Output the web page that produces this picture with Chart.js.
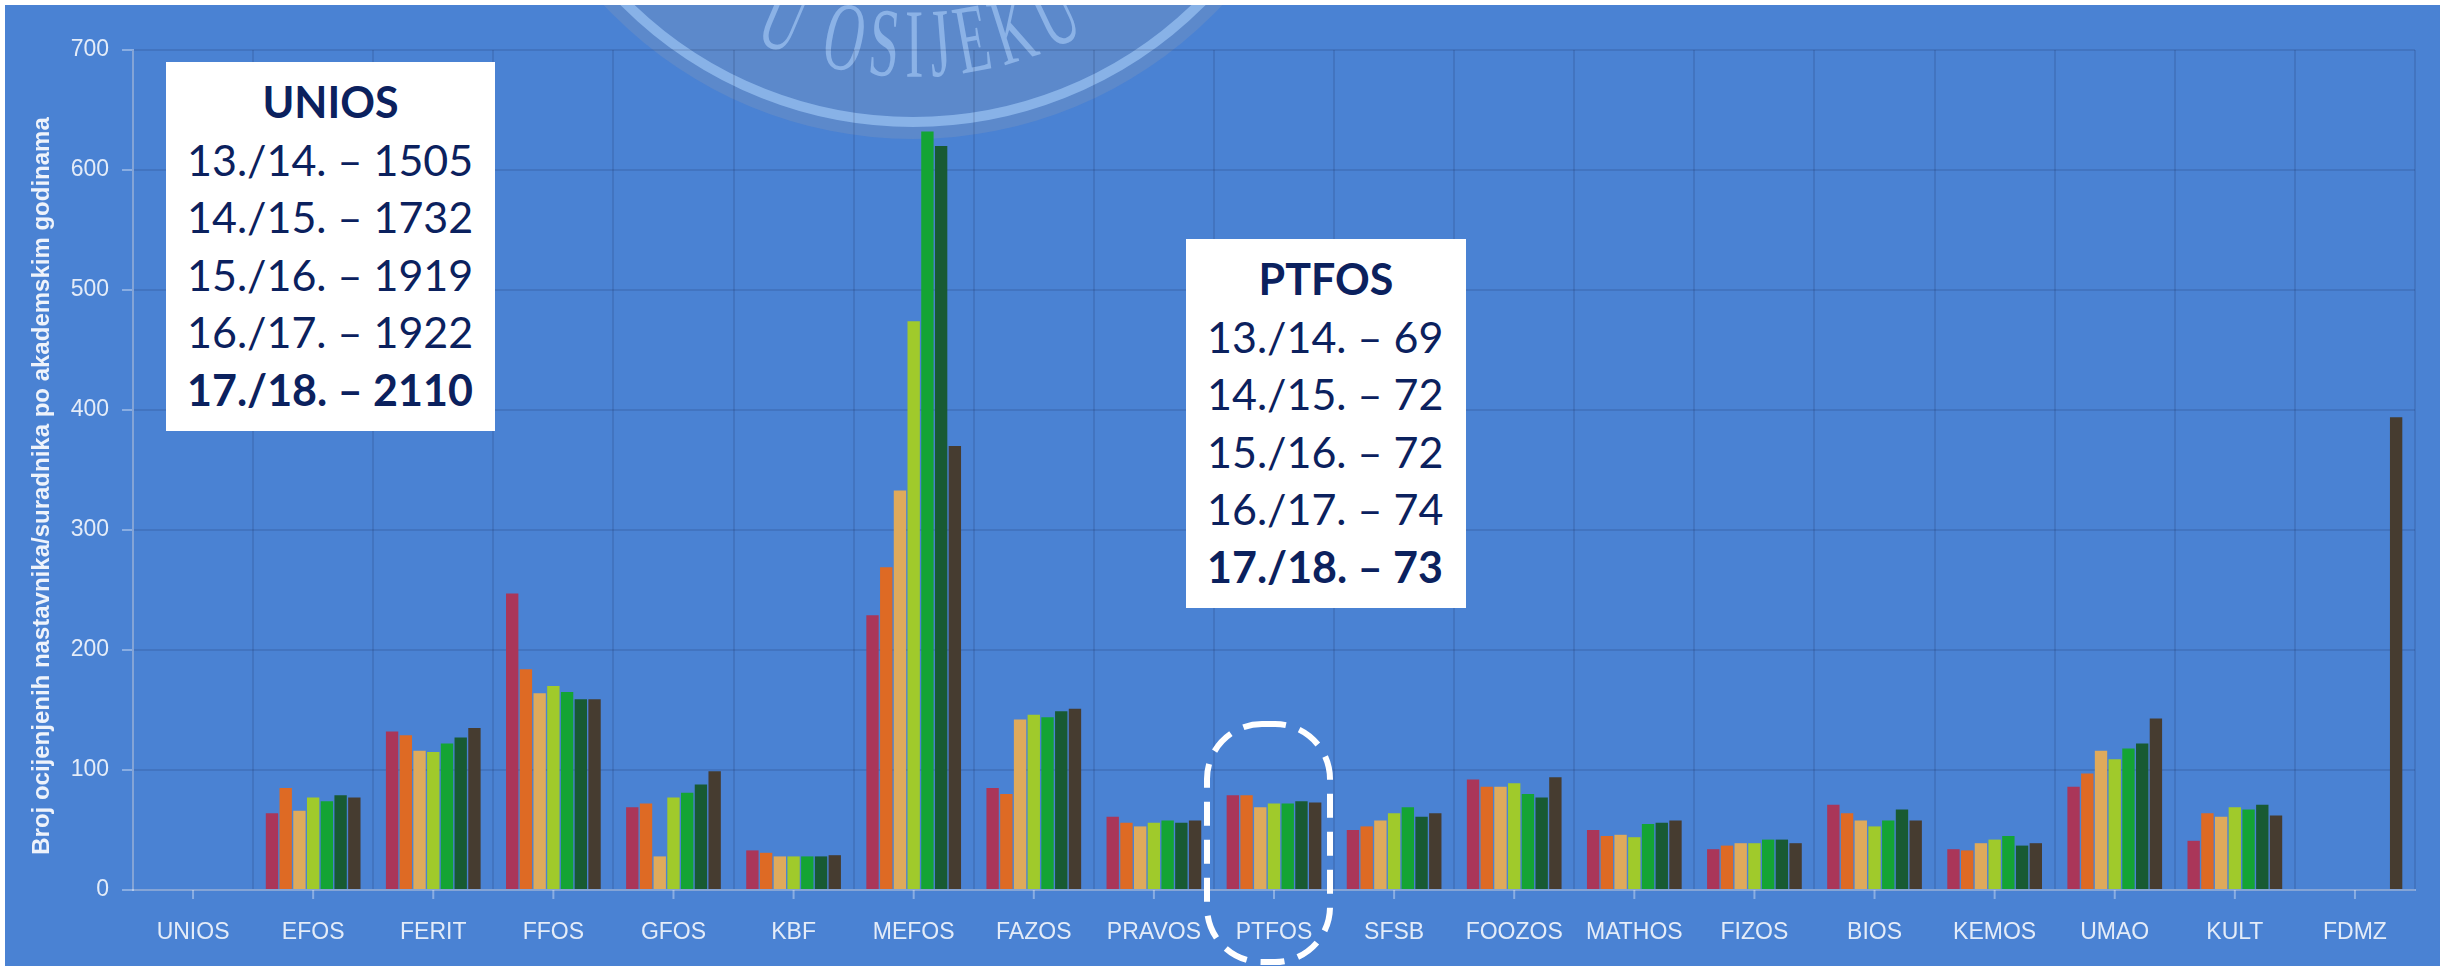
<!DOCTYPE html>
<html>
<head>
<meta charset="utf-8">
<script src="https://cdn.jsdelivr.net/npm/chart.js@4.4.0/dist/chart.umd.min.js"></script>
<style>
  html, body { margin: 0; padding: 0; background: #ffffff; }
  #wrap { position: relative; width: 2440px; height: 966px; overflow: hidden; }
  #facultyChart { display: block; }
  .note {
    position: absolute; background: #ffffff; color: #0b215e;
    font-family: Lato, "Open Sans", sans-serif; font-size: 43px; line-height: 57.5px;
    box-sizing: border-box; white-space: nowrap;
  }
  .note .head { font-weight: bold; text-align: center; }
  .note .row { padding-left: 21px; }
  .note .row.last { font-weight: bold; }
</style>
</head>
<body>
<div id="wrap">
  <canvas id="facultyChart" width="2440" height="966"></canvas>
</div>
<script>
var W = 2440, H = 966;

var faculties = ['UNIOS', 'EFOS', 'FERIT', 'FFOS', 'GFOS', 'KBF', 'MEFOS', 'FAZOS', 'PRAVOS', 'PTFOS',
                 'SFSB', 'FOOZOS', 'MATHOS', 'FIZOS', 'BIOS', 'KEMOS', 'UMAO', 'KULT', 'FDMZ'];
var years = ['2011./12.', '2012./13.', '2013./14.', '2014./15.', '2015./16.', '2016./17.', '2017./18.'];
var yearColors = ['#aa3659', '#de6a24', '#dfaa5b', '#a0ca2b', '#14a434', '#185a33', '#463c30'];

var y1112 = [null, 64, 132, 247, 69, 33, 229, 85, 61, 79, 50, 92, 50, 34, 71, 34, 86, 41, null];
var y1213 = [null, 85, 129, 184, 72, 31, 269, 80, 56, 79, 53, 86, 45, 37, 64, 33, 97, 64, null];
var y1314 = [null, 66, 116, 164, 28, 28, 333, 142, 53, 69, 58, 86, 46, 39, 58, 39, 116, 61, null];
var y1415 = [null, 77, 115, 170, 77, 28, 474, 146, 56, 72, 64, 89, 44, 39, 53, 42, 109, 69, null];
var y1516 = [null, 74, 122, 165, 81, 28, 632, 144, 58, 72, 69, 80, 55, 42, 58, 45, 118, 67, null];
var y1617 = [null, 79, 127, 159, 88, 28, 620, 149, 56, 74, 61, 77, 56, 42, 67, 37, 122, 71, null];
var y1718 = [null, 77, 135, 159, 99, 29, 370, 151, 58, 73, 64, 94, 58, 39, 58, 39, 143, 62, 394];

var noteYears = ['13./14.', '14./15.', '15./16.', '16./17.', '17./18.'];
var uniosTotals = [1505, 1732, 1919, 1922, 2110];
var ptfosTotals = [69, 72, 72, 74, 73];

var yTicks = [0, 100, 200, 300, 400, 500, 600, 700];
var yTitle = 'Broj ocijenjenih nastavnika/suradnika po akademskim godinama';

var gridCol = 'rgba(0, 0, 30, 0.10)';
var axisCol = 'rgba(255, 255, 255, 0.35)';
var labelCol = '#e4ecf8';
var fontFam = '"Liberation Sans", Arial, sans-serif';

// white note boxes
function addNote(title, totals, left, top, width, height) {
  var box = document.createElement('div');
  box.className = 'note';
  box.style.left = left + 'px';
  box.style.top = top + 'px';
  box.style.width = width + 'px';
  box.style.height = height + 'px';
  box.style.paddingTop = '11px';
  var head = document.createElement('div');
  head.className = 'head';
  head.textContent = title;
  box.appendChild(head);
  for (var i = 0; i < totals.length; i++) {
    var row = document.createElement('div');
    row.className = 'row' + (i === totals.length - 1 ? ' last' : '');
    row.textContent = noteYears[i] + ' \u2013 ' + totals[i];
    box.appendChild(row);
  }
  document.getElementById('wrap').appendChild(box);
}
addNote('UNIOS', uniosTotals, 166, 62, 329, 369);
addNote('PTFOS', ptfosTotals, 1186, 239, 280, 369);

var seriesData = [y1112, y1213, y1314, y1415, y1516, y1617, y1718];

var decor = {
  id: 'decor',
  beforeDraw: function (chart) {
    var ctx = chart.ctx;
    ctx.save();
    ctx.fillStyle = '#ffffff';
    ctx.fillRect(0, 0, W, H);
    ctx.fillStyle = '#4a82d3';
    ctx.fillRect(5, 5, W - 5, H - 5);

    // faint university seal
    ctx.beginPath();
    ctx.rect(5, 5, W - 5, H - 5);
    ctx.clip();
    var cx = 913, cy = -285;
    ctx.fillStyle = 'rgba(150, 160, 180, 0.24)';
    ctx.beginPath();
    ctx.arc(cx, cy, 424, 0, Math.PI * 2);
    ctx.fill();
    ctx.strokeStyle = 'rgba(165, 205, 250, 0.6)';
    ctx.lineWidth = 10;
    ctx.beginPath();
    ctx.arc(cx, cy, 407, 0, Math.PI * 2);
    ctx.stroke();

    var text = 'U OSIJEKU';
    var r = 336, sx = 0.56, spacing = 6;
    ctx.font = '98px "Liberation Serif", serif';
    ctx.fillStyle = 'rgba(165, 200, 245, 0.65)';
    ctx.textAlign = 'center';
    ctx.textBaseline = 'middle';
    var widths = [], total = 0;
    for (var i = 0; i < text.length; i++) {
      var w = ctx.measureText(text[i]).width * sx;
      widths.push(w);
      total += w + (i ? spacing : 0);
    }
    var s = -total / 2 + r * 0.02;
    for (var j = 0; j < text.length; j++) {
      var mid = s + widths[j] / 2;
      var th = mid / r;
      ctx.save();
      ctx.translate(cx + r * Math.sin(th), cy + r * Math.cos(th));
      ctx.rotate(-th);
      ctx.scale(sx, 1);
      ctx.fillText(text[j], 0, 0);
      ctx.restore();
      s += widths[j] + spacing;
    }
    ctx.restore();
  },
  afterDraw: function (chart) {
    var ctx = chart.ctx;
    var xs = chart.scales.x;
    var bottom = chart.chartArea.bottom;
    ctx.save();
    ctx.strokeStyle = axisCol;
    ctx.lineWidth = 2;
    for (var i = 0; i < faculties.length; i++) {
      var x = xs.getPixelForTick(i);
      ctx.beginPath();
      ctx.moveTo(x, bottom);
      ctx.lineTo(x, bottom + 9);
      ctx.stroke();
    }

    // y axis title
    ctx.save();
    ctx.translate(42, 486);
    ctx.rotate(-Math.PI / 2);
    ctx.fillStyle = '#eef3fb';
    ctx.font = 'bold 24px ' + fontFam;
    ctx.textAlign = 'center';
    ctx.textBaseline = 'middle';
    ctx.fillText(yTitle, 0, 0);
    ctx.restore();

    // dashed outline around PTFOS
    var px = xs.getPixelForValue(faculties.indexOf('PTFOS'));
    ctx.strokeStyle = '#ffffff';
    ctx.lineWidth = 6;
    ctx.setLineDash([24, 14]);
    ctx.beginPath();
    ctx.roundRect(px - 67, 724, 123, 238, 55);
    ctx.stroke();
    ctx.restore();
  }
};

var chartData = {
  labels: faculties,
  datasets: years.map(function (y, i) {
    return {
      label: y,
      data: seriesData[i],
      backgroundColor: yearColors[i],
      borderWidth: 0,
      categoryPercentage: 0.8,
      barPercentage: 0.9
    };
  })
};

var chartOptions = {
  responsive: false,
  devicePixelRatio: 1,
  animation: false,
  layout: { padding: { top: 50, right: 25, left: 0, bottom: 0 } },
  plugins: {
    legend: { display: false },
    tooltip: { enabled: false }
  },
  scales: {
    x: {
      grid: { color: gridCol, lineWidth: 2, offset: true, drawTicks: false },
      border: { color: axisCol, width: 2 },
      ticks: {
        color: labelCol, font: { family: fontFam, size: 23 },
        padding: 29, maxRotation: 0, autoSkip: false
      },
      afterFit: function (s) { s.height = 76; }
    },
    y: {
      min: 0,
      max: 700,
      afterBuildTicks: function (s) { s.ticks = yTicks.map(function (v) { return { value: v }; }); },
      grid: { color: gridCol, lineWidth: 2, tickColor: axisCol, tickLength: 11 },
      border: { color: axisCol, width: 2 },
      ticks: { color: labelCol, font: { family: fontFam, size: 23 }, padding: 13 },
      afterFit: function (s) { s.width = 133; }
    }
  }
};

var facultyChart = new Chart(document.getElementById('facultyChart'), {
  type: 'bar',
  data: chartData,
  options: chartOptions,
  plugins: [decor]
});
</script>
</body>
</html>
